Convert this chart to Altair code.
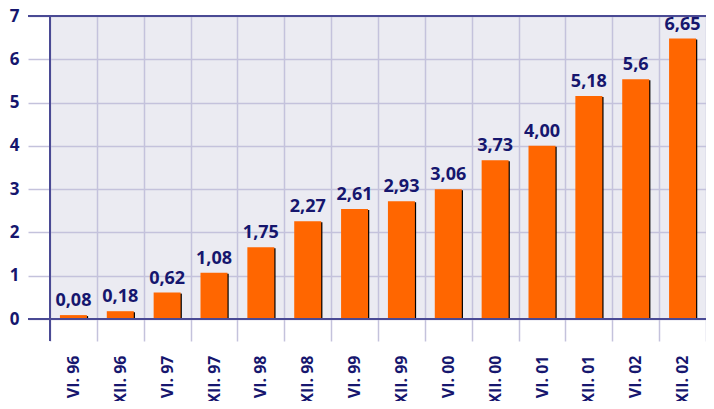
import altair as alt
import pandas as pd

categories = ["VI. 96", "XII. 96", "VI. 97", "XII. 97", "VI. 98", "XII. 98", "VI. 99",
              "XII. 99", "VI. 00", "XII. 00", "VI. 01", "XII. 01", "VI. 02", "XII. 02"]
bar_values = [0.09, 0.18, 0.61, 1.07, 1.66, 2.26, 2.54, 2.72, 3.00, 3.67, 4.00, 5.15, 5.54, 6.48]
label_texts = ["0,08", "0,18", "0,62", "1,08", "1,75", "2,27", "2,61", "2,93", "3,06",
               "3,73", "4,00", "5,18", "5,6", "6,65"]

df = pd.DataFrame({"cat": categories, "val": bar_values, "lab": label_texts})

NAVY = "#16166e"
AXIS = "#4a4a94"
GRID = "#c4c2dc"
ORANGE = "#ff6600"
FONT = "Open Sans"

W, H = 656, 303

x_enc = alt.X("cat:N", sort=categories, title=None,
              scale=alt.Scale(paddingInner=0, paddingOuter=0),
              axis=alt.Axis(labelAngle=-90, labelAlign="right", labelBaseline="middle",
                            labelFont=FONT, labelFontWeight="bold", labelFontSize=16,
                            labelColor=NAVY, labelPadding=14,
                            tickBand="extent", grid=True, gridColor=GRID, gridWidth=1.5,
                            ticks=True, tickColor=GRID, tickSize=22, tickWidth=1.5,
                            domain=False))
y_enc = alt.Y("val:Q", title=None,
              scale=alt.Scale(domain=[0, 7], nice=False, zero=True),
              axis=alt.Axis(values=[0, 1, 2, 3, 4, 5, 6, 7], format="d",
                            labelFont=FONT, labelFontWeight="bold", labelFontSize=17,
                            labelColor=NAVY, labelPadding=9,
                            grid=True, gridColor=GRID, gridWidth=1.5,
                            ticks=True, tickColor=GRID, tickSize=22, tickWidth=1.5,
                            domain=False))

base = alt.Chart(df)

shadow = base.mark_bar(color="#000000", xOffset=1.2, yOffset=1,
                       width=alt.RelativeBandSize(0.576)).encode(x=x_enc, y=y_enc)
bars = base.mark_bar(color=ORANGE, width=alt.RelativeBandSize(0.576)).encode(
    x=alt.X("cat:N", sort=categories), y="val:Q")
labels = base.mark_text(font=FONT, fontWeight="bold", fontSize=18, color=NAVY,
                        baseline="bottom", dy=-5).encode(
    x=alt.X("cat:N", sort=categories), y="val:Q", text="lab:N")

line_df = pd.DataFrame({"d": [0]})
top_line = alt.Chart(line_df).mark_rule(color=AXIS, strokeWidth=2).encode(
    x=alt.value(-22), x2=alt.value(W), y=alt.value(0))
zero_line = alt.Chart(line_df).mark_rule(color=AXIS, strokeWidth=2).encode(
    x=alt.value(-22), x2=alt.value(W), y=alt.value(H))
left_line = alt.Chart(line_df).mark_rule(color=AXIS, strokeWidth=2).encode(
    x=alt.value(0), y=alt.value(0), y2=alt.value(H + 22))

chart = alt.layer(shadow, bars, labels, top_line, zero_line, left_line).properties(
    width=W, height=H,
    autosize=alt.AutoSizeParams(type="none"),
    padding={"left": 42, "top": 8, "right": 0, "bottom": 82},
    background="#ffffff",
).configure_view(fill="#ebebf2", stroke=None)

chart.save("out.html", embed_options={"renderer": "svg", "actions": False})
